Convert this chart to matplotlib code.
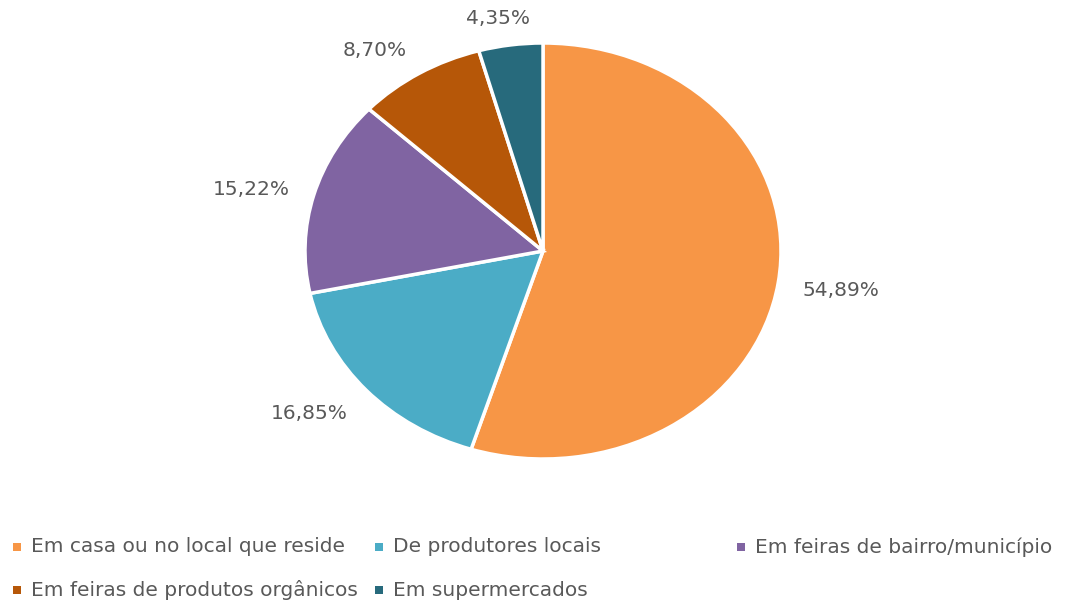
import numpy as np
import matplotlib.pyplot as plt
from matplotlib.patches import Rectangle

# dados do grafico
categorias = ["Em casa ou no local que reside", "De produtores locais",
              "Em feiras de bairro/município", "Em feiras de produtos orgânicos",
              "Em supermercados"]
valores = [54.89, 16.85, 15.22, 8.70, 4.35]
rotulos = ["54,89%", "16,85%", "15,22%", "8,70%", "4,35%"]
cores = ["#F79646", "#4BACC6", "#8064A2", "#B65708", "#276A7C"]

W, H = 1067, 603
fig = plt.figure(figsize=(W / 100, H / 100), dpi=100)

# pizza esticada como no Excel (elipse)
cx, cy, rx, ry = 543, 251, 238, 208
ax = fig.add_axes([(cx - rx) / W, 1 - (cy + ry) / H, 2 * rx / W, 2 * ry / H])
wedges, _ = ax.pie(valores, colors=cores, startangle=90, counterclock=False,
                   wedgeprops=dict(edgecolor="white", linewidth=2.5))
ax.set_aspect("auto")
ax.set_xlim(-1, 1)
ax.set_ylim(-1, 1)
ax.axis("off")

# rotulos fora da borda (distancia em pixels, como no Excel)
gap = 24
for w, txt in zip(wedges, rotulos):
    ang = np.deg2rad((w.theta1 + w.theta2) / 2)
    c, s = np.cos(ang), np.sin(ang)
    hw = 6.5 * len(txt) * min(1, 2 * abs(c))
    hh = 6
    px = cx + rx * c + np.sign(c) * hw + gap * c
    py = cy - (ry * s + (hh + gap) * s) + 3
    fig.text(px / W, 1 - py / H, txt, fontsize=14.5, color="#595959",
             ha="center", va="center")

# legenda manual (fluxo tipo Excel)
pos_legenda = [(13, 547), (375, 547), (737, 547), (13, 590), (375, 590)]
for (px, py), cor, nome in zip(pos_legenda, cores, categorias):
    fig.add_artist(Rectangle((px / W, 1 - (py + 4) / H), 8 / W, 8 / H,
                             transform=fig.transFigure, color=cor, lw=0))
    fig.text((px + 18) / W, 1 - py / H, nome, fontsize=14.5, color="#595959",
             va="center", ha="left")

plt.savefig("out.png", dpi=100)
